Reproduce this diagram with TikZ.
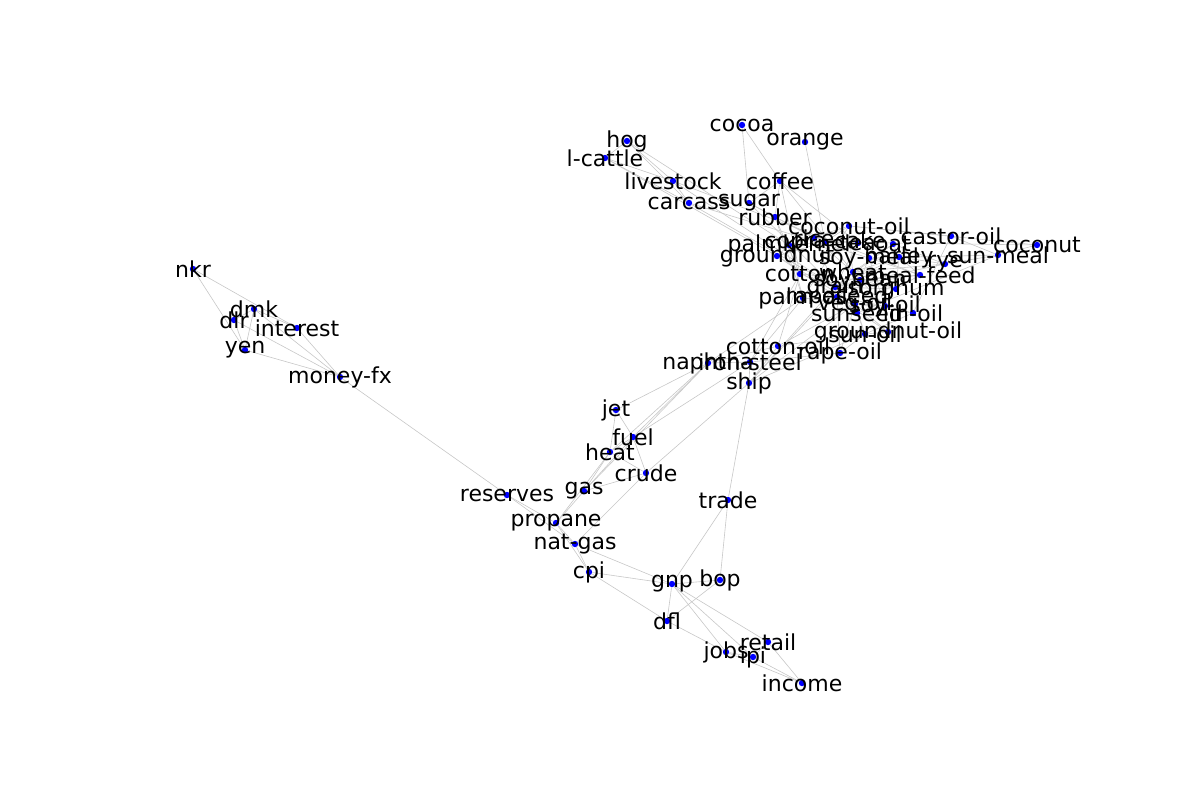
\documentclass[tikz,border=0pt]{standalone}
\usepackage{fontspec}
\setmainfont{DejaVu Sans}
\pgfdeclarelayer{background}
\pgfsetlayers{background,main}
\begin{document}
\begin{tikzpicture}[x=0.5pt,y=-0.5pt,
  edge/.style={draw=black!22, line width=0.3pt},
  vtx/.style={circle, fill=blue, inner sep=0pt, minimum size=3.2pt},
  lab/.style={font=\fontsize{11}{13}\selectfont, inner sep=0pt, text=black}]
\useasboundingbox (0,0) rectangle (1200,800);
\foreach \n/\x/\y in {nkr/193/269, dmk/254/309, dlr/234/320, interest/297/328, yen/245/350, moneyfx/340/377,
  hog/627/141, lcattle/605/158, livestock/673/181, carcass/689/203, sugar/749/203, cocoa/742/125, orange/805/142,
  coffee/780/181, rubber/775/217, coconutoil/849/226, castoroil/951/236, coconut/1037/245, sunmeal/998/255,
  palmkernel/789/245, rice/814/238, copracake/825/242, tea/858/243, oat/893/244, groundnut/777/256,
  soymeal/869/258, barley/899/257, rye/945/264, cotton/800/274, wheat/853/272, soybean/860/280, mealfeed/920/275,
  grain/835/287, sorghum/896/289, palmoil/803/298, rapeseed/837/297, vegoil/855/304, soyoil/885/306,
  sunseed/857/313, linoil/913/313, groundnutoil/888/332, sunoil/865/334, cottonoil/778/346, rapeoil/840/353,
  ironsteel/750/362, naphtha/708/363, ship/749/383, jet/616/410, fuel/633/437, heat/610/452, crude/646/473,
  gas/584/491, reserves/507/495, trade/728/500, propane/556/523, natgas/575/544, cpi/589/572, gnp/672/584,
  bop/720/580, dfl/667/621, jobs/726/652, retail/768/642, ipi/753/657, income/802/683}
  \node[vtx] (\n) at (\x,\y) {};
\begin{pgfonlayer}{background}
\foreach \a/\b in {nkr/yen, nkr/interest, dlr/yen, dmk/yen, dmk/dlr, dlr/moneyfx, dmk/moneyfx, yen/moneyfx,
  interest/moneyfx, dmk/interest, moneyfx/reserves, reserves/propane, reserves/natgas,
  hog/lcattle, hog/livestock, lcattle/livestock, hog/carcass, lcattle/carcass, livestock/carcass,
  livestock/grain, carcass/grain, carcass/soymeal, livestock/mealfeed, hog/palmkernel, lcattle/groundnut,
  cocoa/sugar, cocoa/coffee, orange/copracake, coffee/sugar, coffee/rubber, coffee/tea, coffee/wheat, coffee/cotton,
  sugar/rubber, sugar/grain, sugar/rice, rubber/palmoil, rubber/cotton, rubber/copracake,
  grain/wheat, grain/barley, grain/oat, grain/rye, grain/sorghum, grain/rice, grain/soybean, grain/mealfeed,
  grain/cotton, grain/tea, wheat/barley, wheat/oat, wheat/rye, wheat/sorghum, wheat/rice, wheat/soybean,
  barley/oat, barley/rye, barley/sorghum, sorghum/soybean, soybean/soymeal, soybean/soyoil, soymeal/mealfeed,
  mealfeed/barley, mealfeed/sorghum, soymeal/sunmeal, sunmeal/coconut, sunmeal/castoroil, coconut/coconutoil,
  coconut/copracake, castoroil/linoil, castoroil/coconutoil, coconutoil/palmkernel, coconutoil/copracake,
  palmkernel/copracake, palmkernel/palmoil, palmoil/vegoil, vegoil/soyoil, vegoil/rapeoil, vegoil/sunoil,
  vegoil/groundnutoil, vegoil/cottonoil, vegoil/coconutoil, vegoil/linoil, rapeseed/rapeoil, rapeseed/soybean,
  rapeseed/sunseed, sunseed/sunoil, sunseed/sunmeal, groundnut/groundnutoil, groundnut/palmkernel,
  groundnut/copracake, cotton/cottonoil, soyoil/soymeal, linoil/sunoil, groundnutoil/sunoil, rapeoil/sunoil,
  cottonoil/sunoil, rye/sunmeal, soyoil/linoil, rapeseed/soyoil, palmoil/soyoil, soybean/mealfeed,
  oat/rye, tea/rice, palmoil/coconutoil, sunseed/soybean, groundnut/vegoil, cotton/soybean,
  naphtha/ironsteel, ironsteel/ship, naphtha/palmoil, ironsteel/palmoil, ironsteel/cotton, ship/grain,
  ship/wheat, ship/vegoil, ship/sunoil, ship/cottonoil, naphtha/cottonoil, ironsteel/rapeoil,
  jet/naphtha, fuel/naphtha, heat/naphtha, gas/naphtha, fuel/ironsteel, crude/ship, trade/ship,
  jet/fuel, jet/heat, fuel/heat, fuel/crude, heat/crude, gas/crude, gas/heat, gas/fuel, gas/propane,
  propane/heat, propane/natgas, crude/natgas, natgas/cpi, propane/cpi, natgas/gnp,
  cpi/gnp, cpi/dfl, gnp/bop, gnp/dfl, gnp/trade, bop/trade, dfl/bop, dfl/jobs, gnp/jobs, gnp/ipi, gnp/retail,
  jobs/ipi, ipi/income, retail/income, jobs/income, retail/ipi}
  \draw[edge] (\a) -- (\b);
\end{pgfonlayer}
\foreach \n/\t in {nkr/nkr, dmk/dmk, dlr/dlr, interest/interest, yen/yen, moneyfx/money-fx,
  hog/hog, lcattle/l-cattle, livestock/livestock, carcass/carcass, sugar/sugar, cocoa/cocoa, orange/orange,
  coffee/coffee, rubber/rubber, coconutoil/coconut-oil, castoroil/castor-oil, coconut/coconut, sunmeal/sun-meal,
  palmkernel/palmkernel, rice/rice, copracake/copra-cake, tea/tea, oat/oat, groundnut/groundnut,
  soymeal/soy-meal, barley/barley, rye/rye, cotton/cotton, wheat/wheat, soybean/soybean, mealfeed/meal-feed,
  grain/grain, sorghum/sorghum, palmoil/palm-oil, rapeseed/rapeseed, vegoil/veg-oil, soyoil/soy-oil,
  sunseed/sunseed, linoil/lin-oil, groundnutoil/groundnut-oil, sunoil/sun-oil, cottonoil/cotton-oil,
  rapeoil/rape-oil, ironsteel/iron-steel, naphtha/naphtha, ship/ship, jet/jet, fuel/fuel, heat/heat,
  crude/crude, gas/gas, reserves/reserves, trade/trade, propane/propane, natgas/nat-gas, cpi/cpi, gnp/gnp,
  bop/bop, dfl/dfl, jobs/jobs, retail/retail, ipi/ipi, income/income}
  \node[lab] (\n-l) at (\n) {\t};
\end{tikzpicture}
\end{document}
